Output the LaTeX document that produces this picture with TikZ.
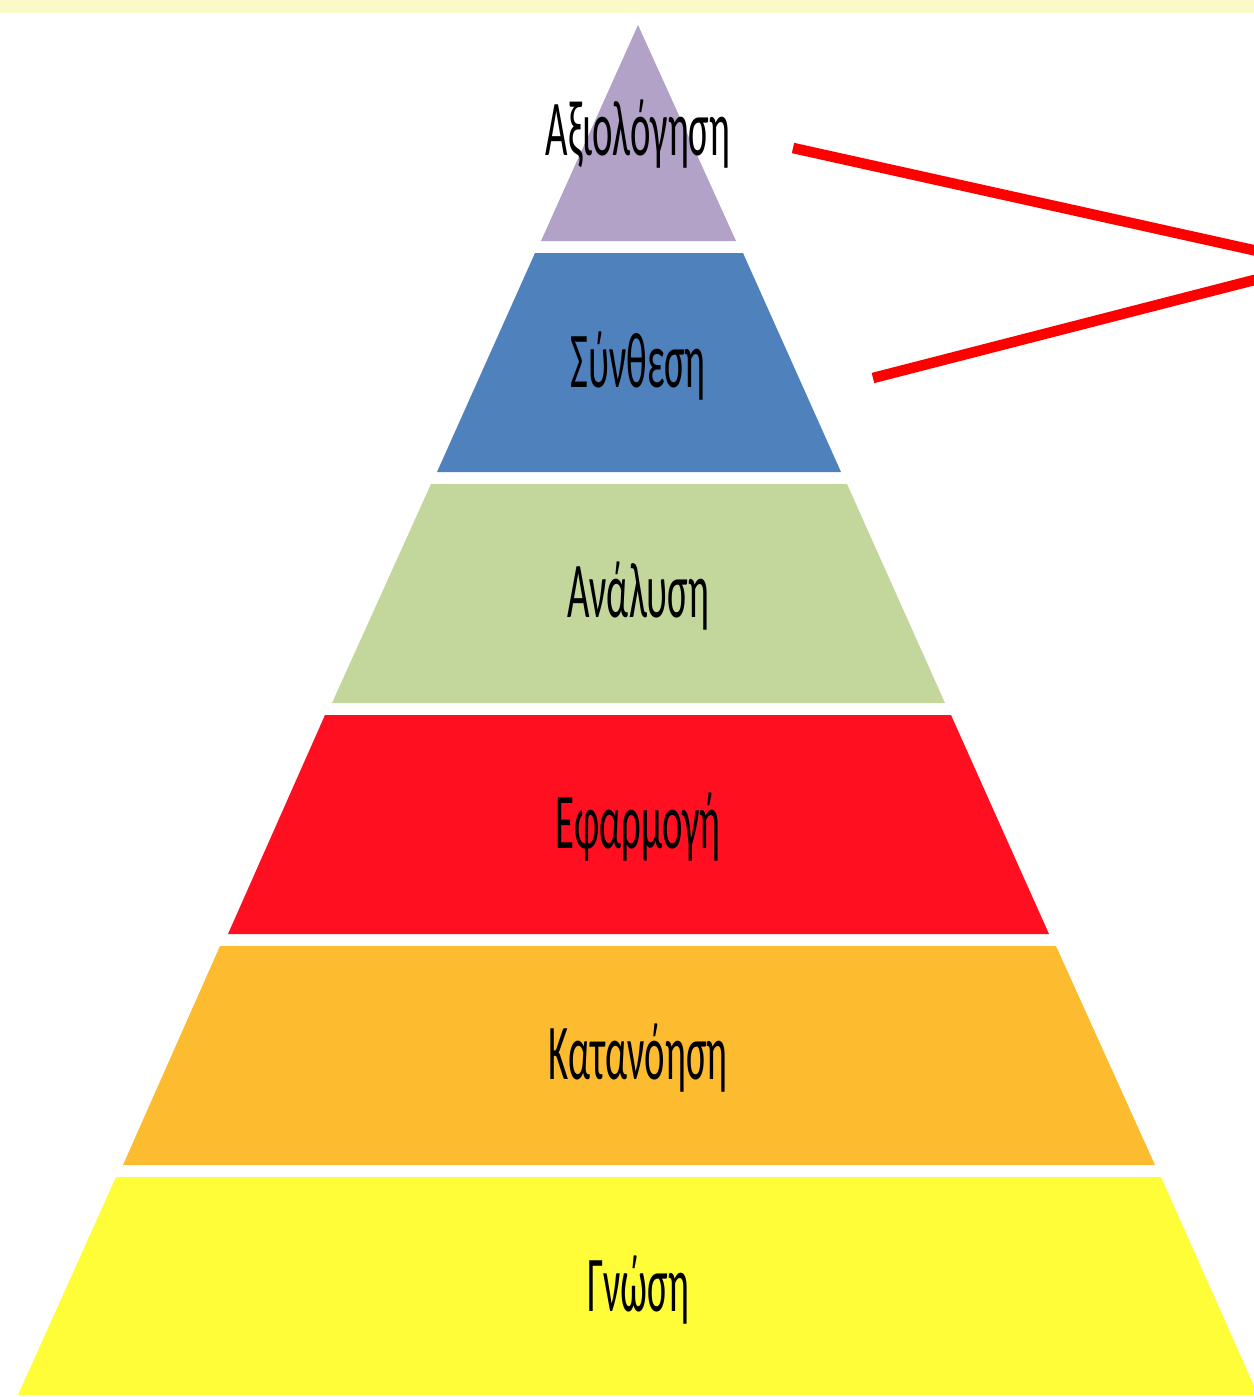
\documentclass[tikz,border=0pt]{standalone}
\usepackage{fontspec}
\setmainfont{Carlito}
\usepackage{tikz}

\definecolor{topband}{HTML}{FAF9C8}
\definecolor{evalcol}{HTML}{B3A2C7}
\definecolor{synthcol}{HTML}{4F81BD}
\definecolor{analcol}{HTML}{C3D69B}
\definecolor{applcol}{HTML}{FF0F1F}
\definecolor{undercol}{HTML}{FDBC2F}
\definecolor{knowcol}{HTML}{FFFC38}
\definecolor{pointer}{HTML}{FF0000}

\begin{document}
\begin{tikzpicture}
            [x=0.02cm,y=-0.02cm,
             lbl/.style={font=\fontsize{45}{50}\selectfont,text=black,inner sep=0pt,xscale=0.49,transform shape},
             pointer line/.style={pointer,line width=6pt}]
            \useasboundingbox (0,0) rectangle (1254,1397);
            \fill[topband] (0,0) rectangle (1254,13);
            
            % levels of the pyramid
            \fill[evalcol]  (638,25) -- (736,241) -- (541,241) -- cycle;
            \fill[synthcol] (535,253) -- (743,253) -- (841,472) -- (437,472) -- cycle;
            \fill[analcol]  (431,484) -- (847,484) -- (945,703) -- (332,703) -- cycle;
            \fill[applcol]  (325,715) -- (951,715) -- (1049,934) -- (228,934) -- cycle;
            \fill[undercol] (220,946) -- (1056,946) -- (1155,1165) -- (123,1165) -- cycle;
            \fill[knowcol]  (116,1177) -- (1161,1177) -- (1258,1395) -- (18,1395) -- cycle;
            
            % labels
            \node[lbl] (eval)  at (638,134)  {Αξιολόγηση};
            \node[lbl] (synth) at (638,366)  {Σύνθεση};
            \node[lbl] (anal)  at (638,596)  {Ανάλυση};
            \node[lbl] (appl)  at (638,827)  {Εφαρμογή};
            \node[lbl] (under) at (638,1058) {Κατανόηση};
            \node[lbl] (know)  at (638,1290) {Γνώση};
            
            % pointers to the right
            \coordinate (evalend)  at (793,148);
            \coordinate (synthend) at (873,378);
            \coordinate (edge1) at (1262,252);
            \coordinate (edge2) at (1262,278);
            \draw[pointer line] (evalend) -- (edge1);
            \draw[pointer line] (synthend) -- (edge2);
        \end{tikzpicture}
\end{document}
